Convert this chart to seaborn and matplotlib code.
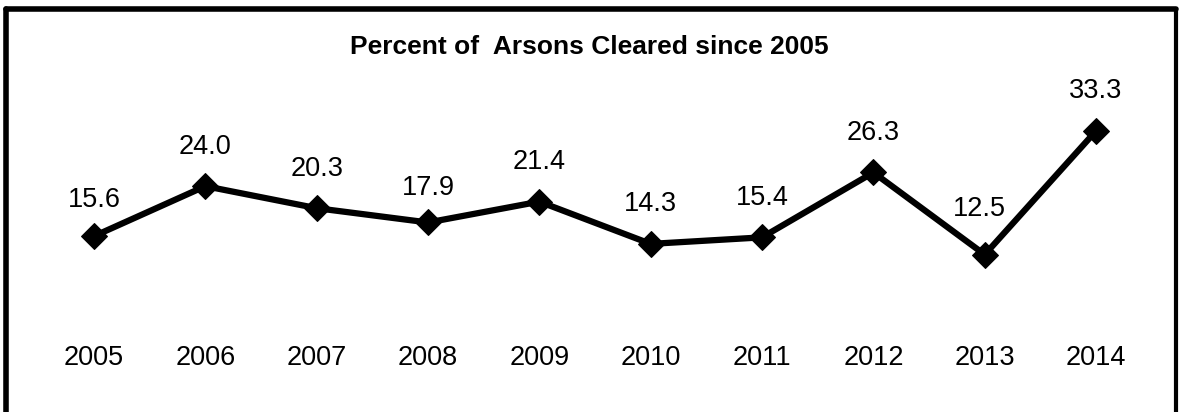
import pandas as pd
import seaborn as sns
import matplotlib.pyplot as plt
from matplotlib.lines import Line2D

# data
years = ["2005", "2006", "2007", "2008", "2009", "2010", "2011", "2012", "2013", "2014"]
pct_cleared = [15.6, 24.0, 20.3, 17.9, 21.4, 14.3, 15.4, 26.3, 12.5, 33.3]

df = pd.DataFrame({"year": years, "pct": pct_cleared})
df["pos"] = range(len(df))

sns.set_theme(style="white")
plt.rcParams["font.family"] = ["Liberation Sans", "DejaVu Sans"]

fig = plt.figure(figsize=(11.79, 4.12), dpi=100)
ax = fig.add_axes([0.0325, 0.2015, 0.9444, 0.5777])

sns.lineplot(
    data=df,
    x="pos",
    y="pct",
    color="black",
    linewidth=4.5,
    marker="D",
    markersize=13,
    markeredgecolor="black",
    ax=ax,
)

# label offsets in points (a few labels sit a bit higher/lower in the original)
label_shift = {"2005": (0, 26), "2008": (0, 24.5), "2013": (-4, 32.5)}
for yr, p, v in zip(df["year"], df["pos"], df["pct"]):
    dx, dy = label_shift.get(yr, (0, 28.5))
    ax.annotate(f"{v:.1f}", (p, v), xytext=(dx, dy), textcoords="offset points",
                ha="center", va="center", fontsize=19.5, color="black")

ax.set_xlim(-0.5, len(years) - 0.5)
ax.set_ylim(0, 40)
ax.set_xticks(df["pos"])
ax.set_xticklabels(years, fontsize=19.5, color="black")
ax.tick_params(axis="x", length=0, pad=11.5)
ax.set_yticks([])
ax.set_xlabel("")
ax.set_ylabel("")
for s in ax.spines.values():
    s.set_visible(False)

fig.text(0.5, 0.885, "Percent of  Arsons Cleared since 2005", ha="center", va="center",
         fontsize=19, fontweight="bold", color="black")

# figure border (bottom edge is cut off)
fig.add_artist(Line2D([0.0055, 0.9975], [0.978, 0.978], color="black", linewidth=4, transform=fig.transFigure))
fig.add_artist(Line2D([0.0055, 0.0055], [0.0, 0.978], color="black", linewidth=4, transform=fig.transFigure))
fig.add_artist(Line2D([0.9975, 0.9975], [0.0, 0.978], color="black", linewidth=3, transform=fig.transFigure))

fig.savefig("out.png", dpi=100, facecolor="white")
